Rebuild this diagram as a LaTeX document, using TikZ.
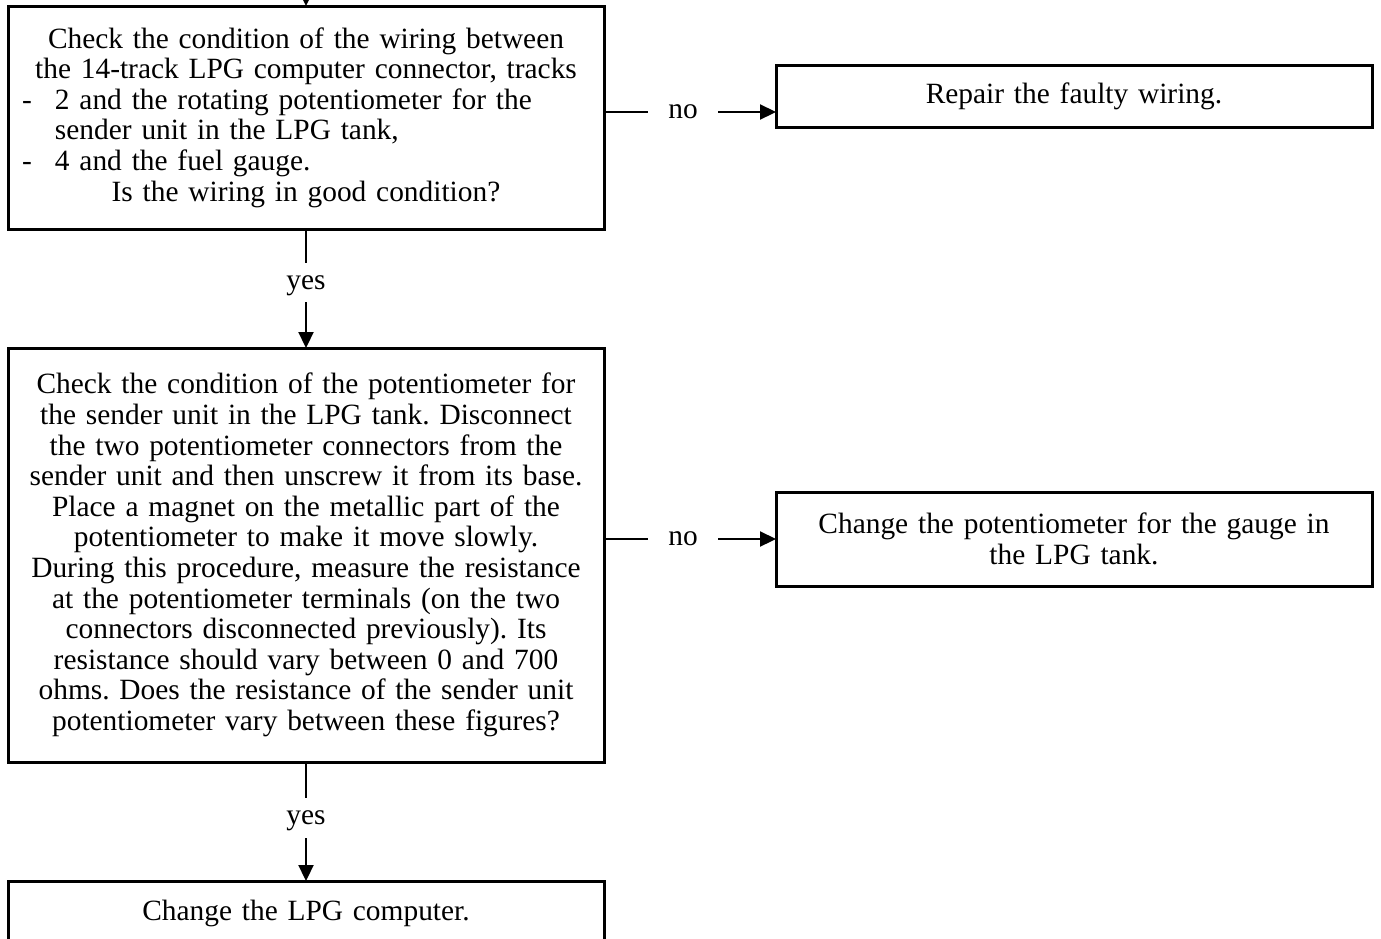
\documentclass[tikz,border=0pt]{standalone}
\usepackage{fontspec}
\setmainfont{Liberation Serif}
\usetikzlibrary{positioning,arrows.meta}
\frenchspacing

% list lines inside a centred box: dash + hanging indent
\newcommand{\dashitem}[1]{\leavevmode\hbox to\hsize{\hspace{4pt}\makebox[16.5pt][l]{-}#1\hfil}}
\newcommand{\itemcont}[1]{\leavevmode\hbox to\hsize{\hspace{20.5pt}#1\hfil}}

\begin{document}
\begin{tikzpicture}[
    >={Triangle[length=8pt,width=7.5pt]},
    node distance=59.5pt and 86pt,
    box/.style={rectangle, draw, line width=1.5pt, outer sep=0pt,
                text width=292pt, inner xsep=3pt, inner ysep=0pt, align=center,
                font=\fontsize{14.7pt}{15.3pt}\selectfont},
    arrow/.style={->, line width=1.1pt},
    answer/.style={fill=white, inner xsep=10pt, inner ysep=6.5pt, text depth=0pt,
                   font=\fontsize{14.7pt}{15.3pt}\selectfont}
]
\path[use as bounding box, clip] (0,0) rectangle (690.5pt,-469pt);

\node[box, minimum height=111.5pt, anchor=north west] (wiring) at (4pt,-3pt) {
    Check the condition of the wiring between\\
    the 14-track LPG computer connector, tracks\\
    \dashitem{2 and the rotating potentiometer for the}\\
    \itemcont{sender unit in the LPG tank,}\\
    \dashitem{4 and the fuel gauge.}\\
    Is the wiring in good condition?};
\node[box, minimum height=207pt, below=of wiring] (potmeter) {
    Check the condition of the potentiometer for\\
    the sender unit in the LPG tank. Disconnect\\
    the two potentiometer connectors from the\\
    sender unit and then unscrew it from its base.\\
    Place a magnet on the metallic part of the\\
    potentiometer to make it move slowly.\\
    During this procedure, measure the resistance\\
    at the potentiometer terminals (on the two\\
    connectors disconnected previously). Its\\
    resistance should vary between 0 and 700\\
    ohms. Does the resistance of the sender unit\\
    potentiometer vary between these figures?};
\node[box, minimum height=32pt, below=of potmeter] (computer) {Change the LPG computer.};

\node[box, minimum height=31pt, below right=29.5pt and 86pt of wiring.north east] (repair)
    {Repair the faulty wiring.};
\node[box, minimum height=47pt, below right=72pt and 86pt of potmeter.north east] (change)
    {Change the potentiometer for the gauge in\\ the LPG tank.};

% incoming step from above
\coordinate (entry) at ([yshift=20pt]wiring.north);
\draw[arrow] (entry) -- (wiring.north);

% yes branches
\draw[arrow] (wiring) -- node[answer, pos=0.45] {yes} (potmeter);
\draw[arrow] (potmeter) -- node[answer, pos=0.47] {yes} (computer);

% no branches
\coordinate (nowiring) at ([yshift=2.75pt]wiring.east);
\draw[arrow] (nowiring) -- node[answer, pos=0.46] {no} (nowiring -| repair.west);
\draw[arrow] (potmeter.east |- change.west) -- node[answer, pos=0.46] {no} (change.west);
\end{tikzpicture}
\end{document}
